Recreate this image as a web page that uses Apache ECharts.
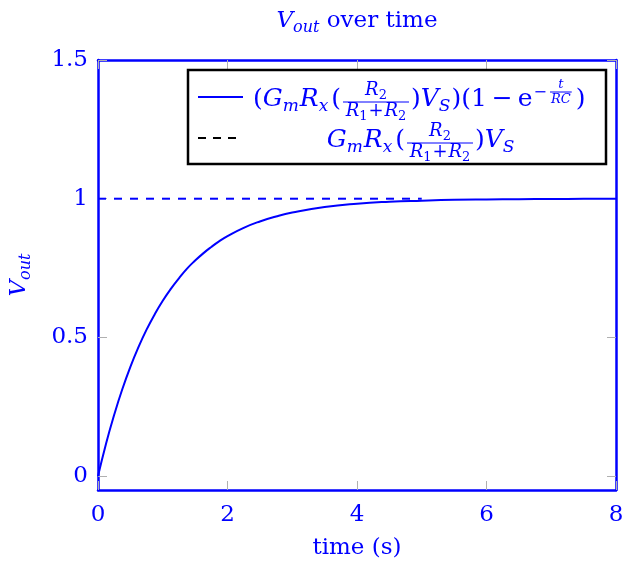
<!DOCTYPE html>
<html>
<head>
<meta charset="utf-8">
<script src="https://cdn.jsdelivr.net/npm/echarts@6/dist/echarts.min.js"></script>
<style>
  html, body { margin: 0; padding: 0; background: #fff; }
  #chart { width: 624px; height: 565px; }
</style>
</head>
<body>
<div id="chart"></div>
<script>
// Step response of the output voltage: rises toward its final value with time constant RC.
const timeSec = [0, 0.125, 0.25, 0.375, 0.5, 0.625, 0.75, 0.875, 1, 1.125, 1.25, 1.375, 1.5, 1.625, 1.75, 1.875, 2, 2.25, 2.5, 2.75, 3, 3.5, 4, 4.5, 5, 5.5, 6, 6.5, 7, 7.5, 8];
const voutValues = [0, 0.118, 0.221, 0.313, 0.394, 0.465, 0.528, 0.583, 0.632, 0.675, 0.713, 0.748, 0.777, 0.803, 0.826, 0.847, 0.865, 0.895, 0.918, 0.936, 0.95, 0.97, 0.982, 0.989, 0.993, 0.996, 0.9975, 0.9985, 0.999, 0.9995, 0.9997];

// Final value reference line
const asymptoteTime = [0, 5];
const asymptoteValue = [1, 1];

// Axis ticks
const xTickInterval = 2;
const yTickValues = [0, 0.5, 1, 1.5];

const BLUE = '#0000ff';
const TICK_GRAY = '#b0b0b0';
const FONT = '"DejaVu Serif", "Liberation Serif", serif';
const FS = 23;      // axis text
const LFS = 25;     // legend text
const LSUB = 17;    // legend subscripts
const FR = 18;      // fraction letters
const FRS = 13;     // fraction subscripts

const chart = echarts.init(document.getElementById('chart'));

// ---- small inline-math typesetter for the legend box ----
const measureCtx = document.createElement('canvas').getContext('2d');
function fontOf(size, it) { return (it ? 'italic ' : '') + size + 'px ' + FONT; }
function widthOf(str, size, it) { measureCtx.font = fontOf(size, it); return measureCtx.measureText(str).width; }
function glyph(x, baseline, str, size, it) {
  return {
    type: 'text', x: x, y: baseline - 0.35 * size, silent: true,
    style: {
      text: str, fill: BLUE, font: fontOf(size, it),
      textAlign: 'left', align: 'left', textVerticalAlign: 'middle', verticalAlign: 'middle'
    }
  };
}
// tokens: [text, size, italic, baselineShift, gapBefore]
function run(tokens, x, baseline, anchor) {
  const ws = tokens.map(function (t) { return widthOf(t[0], t[1], t[2]) + (t[4] || 0); });
  const total = ws.reduce(function (a, b) { return a + b; }, 0);
  let cur = anchor === 'right' ? x - total : anchor === 'center' ? x - total / 2 : x;
  const out = [];
  tokens.forEach(function (t, k) {
    cur += (t[4] || 0);
    out.push(glyph(cur, baseline + (t[3] || 0), t[0], t[1], t[2]));
    cur += ws[k] - (t[4] || 0);
  });
  out.end = cur;
  return out;
}
function bar(x1, x2, y) {
  return { type: 'line', silent: true, shape: { x1: x1, y1: y, x2: x2, y2: y }, style: { stroke: BLUE, lineWidth: 1 } };
}
// R_2 over R_1+R_2, bar from x1 to x2 at height y
function ratio(x1, x2, y) {
  const cx = (x1 + x2) / 2;
  return [].concat(
    run([['R', FR, true], ['2', FRS, false, 3]], cx, y - 5, 'center'),
    [bar(x1, x2, y)],
    run([['R', FR, true], ['1', FRS, false, 3], ['+', FR, false, 0, 1], ['R', FR, true, 0, 1], ['2', FRS, false, 3]], cx, y + 16, 'center')
  );
}

const B1 = 108, B2 = 149;      // baselines of the two legend rows
const SUB = 5;

const row1Left = run([['(', LFS, false], ['G', LFS, true], ['m', LSUB, true, SUB], ['R', LFS, true, 0, 1], ['x', LSUB, true, SUB], ['(', LFS, false, 0, 3]], 341, B1, 'right');
const row1Right = run([[')', LFS, false], ['V', LFS, true], ['S', LSUB, true, SUB], [')', LFS, false, 0, 1], ['(', LFS, false], ['1', LFS, false],
                      ['\u2212', LFS, false, 0, 5], ['e', LFS, false, 0, 5], ['\u2212', 16, false, -10, 1]], 411, B1, 'left');
const expX = row1Right.end + 3;
const expW = widthOf('RC', 13, true) + 2;
const row1Tail = [].concat(
  run([['t', 13, true]], expX + expW / 2, 89, 'center'),
  [bar(expX, expX + expW, 92)],
  run([['RC', 13, true]], expX + expW / 2, 104, 'center'),
  run([[')', LFS, false]], expX + expW + 4, B1, 'left')
);

const row2Left = run([['G', LFS, true], ['m', LSUB, true, SUB], ['R', LFS, true, 0, 1], ['x', LSUB, true, SUB], ['(', LFS, false, 0, 3]], 405, B2, 'right');
const row2Right = run([[')', LFS, false], ['V', LFS, true], ['S', LSUB, true, SUB]], 475, B2, 'left');

const legendGraphics = [
  { type: 'rect', shape: { x: 188, y: 70, width: 418, height: 94 }, style: { fill: '#fff', stroke: '#000', lineWidth: 2.5 }, z: 10 },
  { type: 'line', shape: { x1: 198, y1: 97, x2: 243, y2: 97 }, style: { stroke: BLUE, lineWidth: 2 }, z: 11 },
  { type: 'line', shape: { x1: 198, y1: 138, x2: 240, y2: 138 }, style: { stroke: '#000', lineWidth: 2, lineDash: [8, 7] }, z: 11 }
].concat(row1Left, ratio(343, 409, B1 - 6), row1Right, row1Tail, row2Left, ratio(407, 473, B2 - 6), row2Right)
 .map(function (g) { if (g.z == null) g.z = 12; return g; });

// rich styles for axis names
const richMath = {
  i: { fontStyle: 'italic', fontSize: FS, lineHeight: 30, height: 30, verticalAlign: 'bottom', color: BLUE, fontFamily: FONT },
  s: { fontStyle: 'italic', fontSize: 16, lineHeight: 16, height: 16, verticalAlign: 'bottom', color: BLUE, fontFamily: FONT },
  n: { fontSize: FS, lineHeight: 30, height: 30, verticalAlign: 'bottom', color: BLUE, fontFamily: FONT }
};

const axisLineStyle = { show: true, onZero: false, lineStyle: { color: BLUE, width: 2.5 } };
const tickStyle = { show: true, inside: true, length: 9, lineStyle: { color: TICK_GRAY, width: 1 } };
const labelStyle = { color: BLUE, fontSize: FS, fontFamily: FONT };

chart.setOption({
  animation: false,
  backgroundColor: '#fff',
  grid: { left: 98, right: 8, top: 60, bottom: 75, containLabel: false, outerBoundsMode: 'none' },
  xAxis: [
    {
      type: 'value', position: 'bottom', min: 0, max: 8, interval: xTickInterval,
      axisLine: axisLineStyle, axisTick: tickStyle,
      axisLabel: Object.assign({ margin: 14 }, labelStyle),
      splitLine: { show: false },
      name: 'time (s)', nameLocation: 'middle', nameGap: 47,
      nameTextStyle: { color: BLUE, fontSize: FS, fontFamily: FONT }
    },
    {
      type: 'value', position: 'top', min: 0, max: 8, interval: xTickInterval,
      axisLine: axisLineStyle, axisTick: tickStyle,
      axisLabel: { show: false }, splitLine: { show: false },
      name: '{i|V}{s|out}{n| over time}', nameLocation: 'middle', nameGap: 24,
      nameTextStyle: { rich: richMath }
    }
  ],
  yAxis: [
    {
      type: 'value', position: 'left', min: -0.05, max: 1.5,
      axisLine: axisLineStyle,
      axisTick: Object.assign({ customValues: yTickValues }, tickStyle),
      axisLabel: Object.assign({ margin: 10, customValues: yTickValues }, labelStyle),
      splitLine: { show: false },
      name: '{i|V}{s|out}', nameLocation: 'middle', nameGap: 64, nameRotate: 90,
      nameTextStyle: { rich: richMath }
    },
    {
      type: 'value', position: 'right', min: -0.05, max: 1.5,
      axisLine: axisLineStyle,
      axisTick: Object.assign({ customValues: yTickValues }, tickStyle),
      axisLabel: { show: false, customValues: yTickValues },
      splitLine: { show: false }
    }
  ],
  series: [
    {
      name: 'response', type: 'line', xAxisIndex: 0, yAxisIndex: 0,
      data: timeSec.map(function (t, i) { return [t, voutValues[i]]; }),
      smooth: true, showSymbol: false,
      lineStyle: { color: BLUE, width: 2 }, z: 3
    },
    {
      name: 'final', type: 'line', xAxisIndex: 0, yAxisIndex: 0,
      data: asymptoteTime.map(function (t, i) { return [t, asymptoteValue[i]]; }),
      showSymbol: false,
      lineStyle: { color: BLUE, width: 2, type: [8, 8] }, z: 2
    }
  ],
  graphic: legendGraphics
});
</script>
</body>
</html>
